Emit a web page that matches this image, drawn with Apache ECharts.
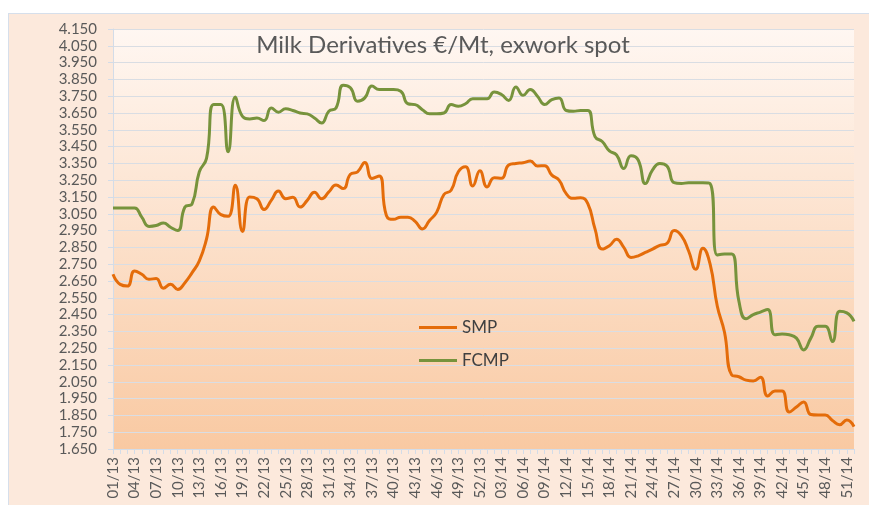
<!DOCTYPE html>
<html>
<head>
<meta charset="utf-8">
<script src="https://cdn.jsdelivr.net/npm/echarts@6/dist/echarts.min.js"></script>
<style>
  html, body { margin: 0; padding: 0; background: #fff; }
  #frame {
    position: absolute; left: 8px; top: 13px; width: 880px; height: 520px;
    background: #fce9dc; border: 1px solid #d6dfeb; box-sizing: border-box;
  }
  #chart { position: absolute; left: 0; top: 0; width: 869px; height: 505px; }
</style>
</head>
<body>
<div id="frame"></div>
<div id="chart"></div>
<script>
// week labels, 2013 + 2014
const weeks = [
  '01/13','02/13','03/13','04/13','05/13','06/13','07/13','08/13','09/13','10/13',
  '11/13','12/13','13/13','14/13','15/13','16/13','17/13','18/13','19/13','20/13',
  '21/13','22/13','23/13','24/13','25/13','26/13','27/13','28/13','29/13','30/13',
  '31/13','32/13','33/13','34/13','35/13','36/13','37/13','38/13','39/13','40/13',
  '41/13','42/13','43/13','44/13','45/13','46/13','47/13','48/13','49/13','50/13',
  '51/13','52/13','01/14','02/14','03/14','04/14','05/14','06/14','07/14','08/14',
  '09/14','10/14','11/14','12/14','13/14','14/14','15/14','16/14','17/14','18/14',
  '19/14','20/14','21/14','22/14','23/14','24/14','25/14','26/14','27/14','28/14',
  '29/14','30/14','31/14','32/14','33/14','34/14','35/14','36/14','37/14','38/14',
  '39/14','40/14','41/14','42/14','43/14','44/14','45/14','46/14','47/14','48/14',
  '49/14','50/14','51/14','52/14'
];

// €/Mt
const smp = [
  2690, 2630, 2620, 2710, 2690, 2660, 2665, 2607, 2630, 2600,
  2640, 2700, 2770, 2900, 3090, 3045, 3035, 3220, 2945, 3150,
  3140, 3075, 3130, 3185, 3140, 3148, 3090, 3130, 3178, 3140,
  3180, 3221, 3200, 3285, 3300, 3355, 3260, 3275, 3040, 3017,
  3030, 3030, 3005, 2960, 3010, 3060, 3165, 3190, 3300, 3330,
  3215, 3306, 3210, 3265, 3261, 3340, 3350, 3354, 3364, 3335,
  3336, 3280, 3250, 3170, 3142, 3146, 3110, 2960, 2840, 2860,
  2898, 2850, 2790, 2800, 2820, 2840, 2862, 2874, 2950, 2920,
  2830, 2720, 2845, 2750, 2500, 2345, 2090, 2080, 2060, 2055,
  2077, 1965, 1995, 1995, 1870, 1900, 1930, 1855, 1852, 1852,
  1820, 1795, 1823, 1783
];

const fcmp = [
  3085, 3085, 3085, 3085, 3030, 2975, 2980, 2995, 2970, 2950,
  3090, 3110, 3300, 3380, 3700, 3700, 3420, 3745, 3630, 3615,
  3620, 3605, 3680, 3655, 3675, 3665, 3650, 3645, 3620, 3590,
  3660, 3680, 3815, 3800, 3720, 3740, 3810, 3790, 3790, 3790,
  3780, 3705, 3700, 3670, 3645, 3645, 3650, 3700, 3690, 3705,
  3735, 3735, 3735, 3775, 3760, 3725, 3805, 3755, 3790, 3750,
  3700, 3730, 3740, 3665, 3660, 3665, 3665, 3510, 3480, 3425,
  3400, 3320, 3395, 3370, 3230, 3311, 3350, 3335, 3235, 3230,
  3235, 3235, 3235, 3230, 2805, 2810, 2810, 2530, 2425, 2450,
  2465, 2480, 2330, 2335, 2330, 2310, 2240, 2310, 2380, 2380,
  2290, 2470, 2460, 2410
];

const yMin = 1650;
const yMax = 4150;
const yStep = 100;

const font = 'Lato, "Open Sans", sans-serif';
const gridColor = '#d9dde3';
const axisColor = '#d3dce8';

const chart = echarts.init(document.getElementById('chart'));

chart.setOption({
  animation: false,
  backgroundColor: 'transparent',
  title: {
    text: 'Milk Derivatives €/Mt, exwork spot',
    left: 438,
    top: 28,
    textAlign: 'center',
    textStyle: { fontFamily: font, fontSize: 24, fontWeight: 'normal', color: '#595959' },
  },
  legend: {
    data: ['SMP', 'FCMP'],
    orient: 'vertical',
    left: 414,
    top: 314,
    icon: 'rect',
    itemWidth: 38,
    itemHeight: 3,
    itemGap: 16,
    textStyle: { fontFamily: font, fontSize: 17, color: '#404040' },
  },
  grid: {
    left: 113,
    top: 29,
    width: 741,
    height: 420,
    show: true,
    borderWidth: 0,
    backgroundColor: {
      type: 'linear', x: 0, y: 0, x2: 0, y2: 1,
      colorStops: [
        { offset: 0, color: '#fff7f2' },
        { offset: 1, color: '#f9c9a2' },
      ],
    },
  },
  xAxis: {
    type: 'category',
    data: weeks,
    boundaryGap: false,
    axisLine: { lineStyle: { color: axisColor, width: 1 } },
    axisTick: { interval: 0, length: 5, lineStyle: { color: axisColor } },
    axisLabel: {
      interval: 2,
      rotate: 90,
      margin: 8,
      fontFamily: font,
      fontSize: 15,
      color: '#595959',
    },
    splitLine: { show: false },
  },
  yAxis: {
    type: 'value',
    min: yMin,
    max: yMax,
    interval: yStep,
    axisLine: { show: true, lineStyle: { color: axisColor, width: 1 } },
    axisTick: { show: true, length: 5, lineStyle: { color: axisColor } },
    axisLabel: {
      margin: 16,
      fontFamily: font,
      fontSize: 15,
      color: '#595959',
      formatter: (v) => (v / 1000).toFixed(3),
    },
    splitLine: { lineStyle: { color: gridColor, width: 1 } },
  },
  series: [
    {
      name: 'SMP',
      type: 'line',
      data: smp,
      smooth: 0.5,
      showSymbol: false,
      color: '#e46c0a',
      lineStyle: { color: '#e46c0a', width: 3 },
    },
    {
      name: 'FCMP',
      type: 'line',
      data: fcmp,
      smooth: 0.5,
      showSymbol: false,
      color: '#77933c',
      lineStyle: { color: '#77933c', width: 3 },
    },
  ],
});
</script>
</body>
</html>
